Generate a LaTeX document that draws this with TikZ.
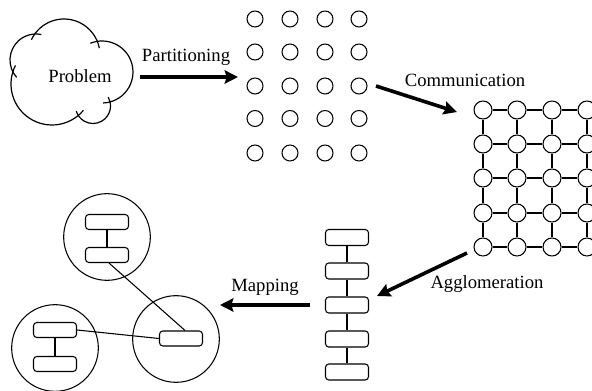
\documentclass[tikz,border=0pt]{standalone}
\usepackage{fontspec}
\setmainfont{Liberation Serif}
\usetikzlibrary{arrows.meta}
\begin{document}
\begin{tikzpicture}[x=0.75pt,y=-0.75pt,
  dot/.style={circle,draw,line width=0.8pt,minimum size=12pt,inner sep=0pt},
  meshnode/.style={circle,draw,fill=white,line width=0.8pt,minimum size=13.5pt,inner sep=0pt},
  task/.style={draw,rounded corners=2.5pt,line width=0.8pt,minimum width=32.25pt,minimum height=12pt,inner sep=0pt},
  ptask/.style={task,minimum height=11.25pt},
  proc/.style={circle,draw,line width=0.8pt,minimum size=65pt,inner sep=0pt},
  bigarrow/.style={line width=2.7pt,-{Stealth[length=10pt,width=10pt,inset=1.5pt]}},
  lbl/.style={font=\fontsize{14}{16}\selectfont,anchor=base,inner sep=0pt},
  link/.style={line width=0.8pt},
  puff/.style={line width=0.9pt}
]
\useasboundingbox (0,0) rectangle (592,391);
\clip (0,0) rectangle (592,391);

% cloud
\draw[puff] (36,60) ++(138:26) arc[start angle=138,end angle=282,radius=26];
\draw[puff] (64,55) ++(205:36) arc[start angle=205,end angle=349,radius=36];
\draw[puff] (102,72) ++(248:31) arc[start angle=248,end angle=448,radius=31];
\draw[puff] (93,106) ++(-30:17.5) arc[start angle=-30,end angle=163,radius=17.5];
\draw[puff] (52,84) ++(40:41) arc[start angle=40,end angle=207,radius=41];
\node[lbl] (problem) at (80,83) {Problem};

% partitioned dots
\foreach \c/\x in {1/255,2/290,3/325,4/359}
  \foreach \r/\y in {1/19,2/52,3/86,4/118.5,5/153}
    \node[dot] (d-\r-\c) at (\x,\y) {};

% mesh
\foreach \c/\x in {1/483,2/517,3/552,4/587}
  \foreach \r/\y in {1/110,2/144,3/178,4/213,5/247}
    \node[meshnode] (g-\r-\c) at (\x,\y) {};
\foreach \r in {1,...,5}
  \foreach \a/\b in {1/2,2/3,3/4}
    \draw[link] (g-\r-\a) -- (g-\r-\b);
\foreach \c in {1,...,4}
  \foreach \a/\b in {1/2,2/3,3/4,4/5}
    \draw[link] (g-\a-\c) -- (g-\b-\c);

% chain
\foreach \i/\y in {1/237.5,2/271,3/305,4/339,5/372}
  \node[task] (c\i) at (347,\y) {};
\foreach \a/\b in {1/2,2/3,3/4,4/5}
  \draw[link] (c\a) -- (c\b);

% mapping
\node[proc] (p1) at (107,237) {};
\node[proc] (p2) at (55,348) {};
\node[proc] (p3) at (176,339) {};
\node[ptask] (t1) at (107,222) {};
\node[ptask] (t2) at (107,255) {};
\node[ptask] (u1) at (55,330) {};
\node[ptask] (u2) at (55,364) {};
\node[ptask] (m1) at (181,338.5) {};
\draw[link] (t1) -- (t2);
\draw[link] (u1) -- (u2);
\draw[link] ([xshift=1.5pt]t2.south) -- ([xshift=3pt]m1.north);
\draw[link] (u1.east) -- (m1.west);

% arrows
\coordinate (pa) at (140,77);
\coordinate (pb) at (238,77);
\coordinate (ca) at (376,86);
\coordinate (cb) at (457,112);
\coordinate (aa) at (467,253);
\coordinate (ab) at (377,296);
\coordinate (ma) at (310,305);
\coordinate (mb) at (220,305);
\draw[bigarrow] (pa) -- (pb);
\draw[bigarrow] (ca) -- (cb);
\draw[bigarrow] (aa) -- (ab);
\draw[bigarrow] (ma) -- (mb);

\node[lbl] (lpart) at (186,62) {Partitioning};
\node[lbl] (lcomm) at (465,87) {Communication};
\node[lbl] (lagg) at (487,289) {Agglomeration};
\node[lbl] (lmap) at (265,292) {Mapping};
\end{tikzpicture}
\end{document}
